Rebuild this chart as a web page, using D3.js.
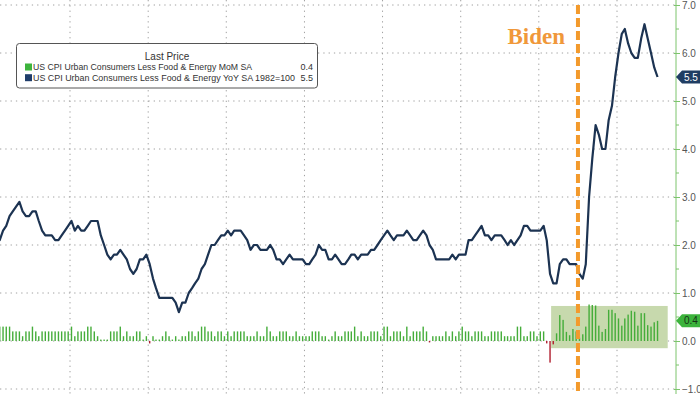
<!DOCTYPE html>
<html>
<head>
<meta charset="utf-8">
<script src="https://cdn.jsdelivr.net/npm/d3@7"></script>
<style>
  body { margin: 0; background: #fff; }
  #chart { width: 700px; height: 394px; }
  text { font-family: "Liberation Sans", Arial, sans-serif; }
</style>
</head>
<body>
<div id="chart"></div>
<script>

// monthly series, first value = Jan 2006, last = Jan 2023
const startYear = 2006;

// core CPI YoY (%)
const yoy = [
  2.1, 2.1, 2.1, 2.3, 2.4, 2.6, 2.7, 2.8, 2.9, 2.7, 2.6, 2.6,
  2.7, 2.7, 2.5, 2.3, 2.2, 2.2, 2.2, 2.1, 2.1, 2.2, 2.3, 2.4,
  2.5, 2.3, 2.4, 2.3, 2.3, 2.4, 2.5, 2.5, 2.5, 2.2, 2.0, 1.8,
  1.7, 1.8, 1.8, 1.9, 1.8, 1.7, 1.5, 1.4, 1.5, 1.7, 1.7, 1.8,
  1.6, 1.3, 1.1, 0.9, 0.9, 0.9, 0.9, 0.9, 0.8, 0.6, 0.8, 0.8,
  1.0, 1.1, 1.2, 1.3, 1.5, 1.6, 1.8, 2.0, 2.0, 2.1, 2.2, 2.2,
  2.3, 2.2, 2.3, 2.3, 2.3, 2.2, 2.1, 1.9, 2.0, 2.0, 1.9, 1.9,
  1.9, 2.0, 1.9, 1.7, 1.7, 1.6, 1.7, 1.8, 1.7, 1.7, 1.7, 1.7,
  1.6, 1.6, 1.7, 1.8, 2.0, 1.9, 1.9, 1.7, 1.7, 1.8, 1.7, 1.6,
  1.6, 1.7, 1.8, 1.8, 1.7, 1.8, 1.8, 1.8, 1.9, 1.9, 2.0, 2.1,
  2.2, 2.3, 2.2, 2.1, 2.2, 2.2, 2.2, 2.3, 2.2, 2.1, 2.1, 2.2,
  2.3, 2.2, 2.0, 1.9, 1.7, 1.7, 1.7, 1.7, 1.7, 1.8, 1.7, 1.8,
  1.8, 1.8, 2.1, 2.1, 2.2, 2.3, 2.4, 2.2, 2.2, 2.1, 2.2, 2.2,
  2.2, 2.1, 2.0, 2.1, 2.0, 2.1, 2.2, 2.4, 2.4, 2.3, 2.3, 2.3,
  2.3, 2.4, 2.1, 1.4, 1.2, 1.2, 1.6, 1.7, 1.7, 1.6, 1.6, 1.6,
  1.4, 1.3, 1.6, 3.0, 3.8, 4.5, 4.3, 4.0, 4.0, 4.6, 4.9, 5.5,
  6.0, 6.4, 6.5, 6.2, 6.0, 5.9, 5.9, 6.3, 6.6, 6.3, 6.0, 5.7,
  5.5
];

// core CPI MoM (%)
const mom = [
  0.2, 0.1, 0.3, 0.3, 0.3, 0.3, 0.2, 0.2, 0.2, 0.1, 0.2, 0.2,
  0.3, 0.2, 0.1, 0.2, 0.2, 0.2, 0.2, 0.2, 0.2, 0.2, 0.2, 0.2,
  0.3, 0.1, 0.2, 0.2, 0.2, 0.3, 0.3, 0.2, 0.1, 0.03, 0.03, 0.03,
  0.2, 0.2, 0.2, 0.3, 0.1, 0.2, 0.1, 0.1, 0.2, 0.2, 0.03, 0.1,
  -0.05, 0.1, 0.03, 0.03, 0.1, 0.2, 0.1, 0.03, 0.1, 0.03, 0.1, 0.1,
  0.2, 0.2, 0.1, 0.2, 0.3, 0.3, 0.2, 0.2, 0.1, 0.2, 0.2, 0.1,
  0.2, 0.1, 0.2, 0.2, 0.2, 0.2, 0.1, 0.1, 0.1, 0.2, 0.1, 0.1,
  0.3, 0.2, 0.1, 0.1, 0.2, 0.2, 0.2, 0.1, 0.1, 0.2, 0.1, 0.1,
  0.1, 0.1, 0.2, 0.2, 0.2, 0.1, 0.1, 0.03, 0.1, 0.2, 0.1, 0.1,
  0.2, 0.2, 0.2, 0.3, 0.1, 0.2, 0.1, 0.1, 0.2, 0.2, 0.2, 0.1,
  0.3, 0.3, 0.1, 0.2, 0.2, 0.2, 0.1, 0.3, 0.1, 0.2, 0.2, 0.2,
  0.3, 0.2, -0.03, 0.1, 0.1, 0.1, 0.1, 0.2, 0.1, 0.2, 0.1, 0.2,
  0.3, 0.2, 0.2, 0.1, 0.2, 0.2, 0.2, 0.1, 0.1, 0.2, 0.2, 0.2,
  0.2, 0.1, 0.1, 0.1, 0.1, 0.3, 0.3, 0.1, 0.1, 0.2, 0.2, 0.1,
  0.2, 0.2, -0.05, -0.45, -0.07, 0.16, 0.54, 0.44, 0.19, 0.12, 0.25, 0.2,
  0.07, 0.14, 0.3, 0.76, 0.75, 0.74, 0.32, 0.19, 0.25, 0.65, 0.65, 0.58,
  0.47, 0.32, 0.47, 0.55, 0.63, 0.61, 0.32, 0.58, 0.58, 0.33, 0.3, 0.39,
  0.42
];

const yTicks = [-1, 0, 1, 2, 3, 4, 5, 6, 7];
const gridYears = [2006, 2008, 2010, 2012, 2014, 2016, 2018, 2020, 2022];
const legendNames = [
  "US CPI Urban Consumers Less Food & Energy MoM SA",
  "US CPI Urban Consumers Less Food & Energy YoY SA 1982=100"
];
const legendValues = ["0.4", "5.5"];
const bidenDate = new Date(2021, 0, 1);
const highlightFrom = new Date(2020, 3, 25);
const highlightTo = new Date(2023, 3, 20);
const highlightRange = [0.73, -0.15];

const width = 700;
const height = 394;
const axisX = 676;

const green = "#45ad3a";
const navy = "#1c3352";
const orange = "#f39a2c";

const svg = d3.select("#chart")
  .append("svg")
  .attr("width", width)
  .attr("height", height)
  .style("background", "#fff");

// scales
const xScale = d3.scaleTime()
  .domain([new Date(2008, 0, 1), new Date(2022, 0, 1)])
  .range([70, 617]);

const yScale = d3.scaleLinear()
  .domain([-1, 7])
  .range([389, 5]);

const dates = yoy.map((d, i) => new Date(startYear, i, 15));

svg.append("clipPath").attr("id", "plot")
  .append("rect").attr("x", 0).attr("y", 0).attr("width", axisX).attr("height", height);

// grid
svg.append("g")
  .selectAll("line")
  .data(yTicks)
  .join("line")
  .attr("x1", 0).attr("x2", axisX)
  .attr("y1", d => yScale(d)).attr("y2", d => yScale(d))
  .attr("stroke", "#a0a0a0")
  .attr("stroke-width", 1)
  .attr("stroke-dasharray", "1.3,4");

svg.append("g")
  .selectAll("line")
  .data(gridYears)
  .join("line")
  .attr("x1", d => xScale(new Date(d, 0, 1))).attr("x2", d => xScale(new Date(d, 0, 1)))
  .attr("y1", 0).attr("y2", height)
  .attr("stroke", "#a0a0a0")
  .attr("stroke-width", 1)
  .attr("stroke-dasharray", "1.3,4");

// legend box
const legend = svg.append("g");
legend.append("rect")
  .attr("x", 16.5).attr("y", 43.5)
  .attr("width", 301).attr("height", 44.5)
  .attr("rx", 3)
  .attr("fill", "#fff")
  .attr("stroke", "#555");

legend.append("text")
  .attr("x", 167).attr("y", 60)
  .attr("text-anchor", "middle")
  .style("font-size", "10px")
  .attr("fill", "#333")
  .text("Last Price");

const rows = legend.selectAll(".row")
  .data(legendNames)
  .join("g")
  .attr("transform", (d, i) => `translate(0,${67 + i * 10.7})`);

rows.append("rect")
  .attr("x", 25).attr("y", -3.5)
  .attr("width", 7).attr("height", 7)
  .attr("fill", (d, i) => i === 0 ? "#3db43d" : "#1f3d6b");

rows.append("text")
  .attr("x", 33).attr("y", 3.4)
  .style("font-size", "9px")
  .attr("textLength", (d, i) => i === 0 ? 219 : 262)
  .attr("lengthAdjust", "spacingAndGlyphs")
  .attr("fill", "#333")
  .text(d => d);

rows.append("text")
  .attr("x", 313).attr("y", 3.4)
  .attr("text-anchor", "end")
  .style("font-size", "9px")
  .attr("fill", "#333")
  .text((d, i) => legendValues[i]);

// highlight box
svg.append("rect")
  .attr("x", xScale(highlightFrom))
  .attr("y", yScale(highlightRange[0]))
  .attr("width", xScale(highlightTo) - xScale(highlightFrom))
  .attr("height", yScale(highlightRange[1]) - yScale(highlightRange[0]))
  .attr("fill", "#c7d9ad");

// bars
svg.append("g")
  .attr("clip-path", "url(#plot)")
  .selectAll("rect")
  .data(mom)
  .join("rect")
  .attr("x", (d, i) => xScale(dates[i]) - 0.7)
  .attr("width", 1.4)
  .attr("y", d => d >= 0 ? yScale(d) : yScale(0))
  .attr("height", d => Math.abs(yScale(d) - yScale(0)))
  .attr("fill", d => d >= 0 ? green : "#b01e2e");

// line
const line = d3.line()
  .x((d, i) => xScale(dates[i]))
  .y(d => yScale(d));

svg.append("path")
  .datum(yoy)
  .attr("clip-path", "url(#plot)")
  .attr("d", line)
  .attr("fill", "none")
  .attr("stroke", navy)
  .attr("stroke-width", 2.2)
  .attr("stroke-linejoin", "round");

// Biden marker
svg.append("line")
  .attr("x1", xScale(bidenDate)).attr("x2", xScale(bidenDate))
  .attr("y1", 5).attr("y2", height)
  .attr("stroke", orange)
  .attr("stroke-width", 4)
  .attr("stroke-dasharray", "9,4");

svg.append("text")
  .attr("x", xScale(bidenDate) - 13)
  .attr("y", 44)
  .attr("text-anchor", "end")
  .style("font-family", "'Liberation Serif', 'DejaVu Serif', serif")
  .style("font-weight", "bold")
  .style("font-size", "23px")
  .attr("fill", "#f0983a")
  .text("Biden");

// right axis
const yAxis = svg.append("g")
  .attr("transform", `translate(${axisX},0)`)
  .call(d3.axisRight(yScale).tickValues(yTicks).tickFormat(d3.format(".1f")).tickSize(4).tickPadding(2));

yAxis.select(".domain").attr("stroke", "#7cc46c").attr("d", `M0,0V${height}`);
yAxis.selectAll(".tick line").attr("stroke", "#7cc46c").attr("x1", -2);
yAxis.selectAll(".tick text")
  .attr("fill", "#555")
  .style("font-size", "10px");

svg.append("g")
  .selectAll("line")
  .data(yTicks.slice(0, -1).map(d => d + 0.5))
  .join("line")
  .attr("x1", axisX).attr("x2", axisX + 3)
  .attr("y1", d => yScale(d)).attr("y2", d => yScale(d))
  .attr("stroke", "#7cc46c");

// last value tags
const tags = [
  { v: yoy[yoy.length - 1], fill: "#1f3d63", color: "#fff" },
  { v: mom[mom.length - 1], fill: "#3cb33c", color: "#163316" }
];

const tag = svg.append("g")
  .selectAll("g")
  .data(tags)
  .join("g")
  .attr("transform", d => `translate(${axisX},${yScale(d.v)})`);

tag.append("path")
  .attr("d", "M0,0L6,-6.5H24V6.5H6Z")
  .attr("fill", d => d.fill);

tag.append("text")
  .attr("x", 8).attr("y", 3.6)
  .style("font-size", "10px")
  .attr("fill", d => d.color)
  .text(d => d3.format(".1f")(d.v));

</script>
</body>
</html>
